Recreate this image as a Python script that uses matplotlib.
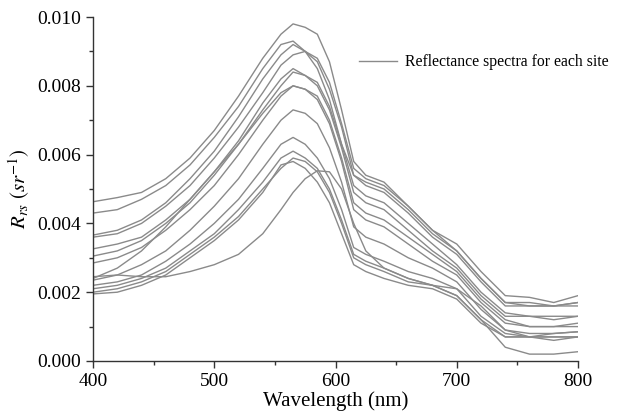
import numpy as np
import matplotlib
matplotlib.use("Agg")
import matplotlib.pyplot as plt
from matplotlib.ticker import MultipleLocator, FormatStrFormatter

plt.rcParams['font.family'] = ['Liberation Serif', 'DejaVu Serif']
plt.rcParams['mathtext.fontset'] = 'stix'

wavelength = [400, 420, 440, 460, 480, 500, 520, 540, 555, 565, 575, 585, 595,
              605, 615, 625, 640, 660, 680, 700, 720, 740, 760, 780, 800]

# Rrs per site (sr^-1)
site_01 = [.00463, .00475, .0049, .0053, .0059, .0067, .0077, .0088, .0095, .0098, .0097, .0095, .0087,
           .0073, .0058, .0054, .0052, .0045, .0038, .0034, .0026, .0019, .00185, .0017, .0019]
site_02 = [.0043, .0044, .0047, .0051, .0057, .0065, .0074, .0085, .0092, .0093, .0090, .0085, .0076,
           .0063, .0054, .0052, .0050, .0044, .0037, .0032, .0024, .0017, .0017, .0016, .0017]
site_03 = [.00366, .0038, .0041, .0046, .0053, .0061, .0071, .0082, .0089, .0092, .0090, .0087, .0079,
           .0068, .0054, .0051, .0049, .0043, .0036, .0031, .0023, .0016, .0016, .0016, .0017]
site_04 = [.0036, .0037, .0040, .0045, .0051, .0059, .0068, .0078, .0086, .0089, .0090, .0088, .0081,
           .0069, .0056, .0053, .0051, .0045, .0038, .0032, .0024, .0017, .0016, .0016, .0016]
site_05 = [.00326, .0034, .0036, .0041, .0047, .0055, .0064, .0075, .0082, .0085, .0083, .0080, .0073,
           .0062, .0049, .0046, .0044, .0038, .0032, .0027, .0019, .0013, .0013, .0012, .0013]
site_06 = [.00305, .0032, .0035, .0040, .0046, .0054, .0063, .0073, .0080, .0084, .0083, .0081, .0074,
           .0063, .0051, .0048, .0046, .0040, .0034, .0028, .0020, .0014, .0013, .0013, .0013]
site_07 = [.00285, .0030, .0033, .0038, .0044, .0051, .0060, .0070, .0077, .0080, .0079, .0076, .0069,
           .0058, .0044, .0041, .0039, .0034, .0029, .0025, .0017, .0011, .0010, .0010, .0010]
site_08 = [.0024, .0027, .0032, .0039, .0047, .0055, .0063, .0072, .0078, .0080, .0079, .0077, .0070,
           .0059, .0046, .0043, .0041, .0036, .0031, .0026, .0018, .0012, .0010, .0010, .0011]
site_09 = [.00235, .0025, .0028, .0032, .0038, .0045, .0053, .0063, .0070, .0073, .0072, .0069, .0062,
           .0052, .0039, .0036, .0034, .0030, .0027, .0023, .0015, .0009, .0008, .0008, .00085]
site_10 = [.0022, .0023, .0025, .0029, .0034, .0040, .0047, .0056, .0063, .0065, .0063, .0059, .0053,
           .0044, .0033, .0031, .0029, .0026, .0024, .0021, .0013, .0008, .0007, .0007, .0007]
site_11 = [.0021, .0022, .0024, .0027, .0032, .0037, .0044, .0052, .0059, .0061, .0059, .0056, .0050,
           .0041, .0031, .0029, .0027, .0024, .0022, .0019, .0012, .0007, .0007, .0006, .0007]
site_12 = [.0020, .0021, .0023, .0026, .0031, .0036, .0042, .0050, .0056, .0059, .0058, .0055, .0049,
           .0040, .0030, .0028, .0026, .0023, .0022, .0021, .0016, .0009, .0007, .0008, .00085]
site_13 = [.00195, .0020, .0022, .0025, .0030, .0035, .0041, .0049, .0057, .0058, .0056, .0052, .0046,
           .0037, .0028, .0026, .0024, .0022, .0021, .0018, .0011, .0007, .0007, .0007, .0007]
site_14 = [.00245, .0025, .00245, .00245, .0026, .0028, .0031, .0037, .0044, .0049, .0053, .00553, .0055,
           .0050, .0040, .0032, .0027, .0024, .0022, .0019, .0012, .0004, .0002, .0002, .00027]

sites = [site_01, site_02, site_03, site_04, site_05, site_06, site_07,
         site_08, site_09, site_10, site_11, site_12, site_13, site_14]

fig = plt.figure(figsize=(6.34, 4.17), dpi=100)
ax = fig.add_axes([0.1467, 0.1343, 0.765, 0.8249])

for i, s in enumerate(sites):
    ax.plot(wavelength, s, color='#8a8a8a', linewidth=1.0,
            label='Reflectance spectra for each site' if i == 0 else None)

ax.set_xlim(400, 800)
ax.set_ylim(0, 0.010)
ax.xaxis.set_major_locator(MultipleLocator(100))
ax.xaxis.set_minor_locator(MultipleLocator(50))
ax.yaxis.set_major_locator(MultipleLocator(0.002))
ax.yaxis.set_minor_locator(MultipleLocator(0.001))
ax.yaxis.set_major_formatter(FormatStrFormatter('%.3f'))

for side in ['top', 'right']:
    ax.spines[side].set_visible(False)
for side in ['left', 'bottom']:
    ax.spines[side].set_color('#333333')
    ax.spines[side].set_linewidth(1.0)

ax.tick_params(which='major', direction='out', length=5, width=1, labelsize=14, color='#333333')
ax.tick_params(which='minor', direction='out', length=3, width=1, color='#333333')

ax.set_xlabel('Wavelength (nm)', fontsize=15, labelpad=1)
ax.set_ylabel(r'$R_{rs}\ (sr^{-1})$', fontsize=15, labelpad=4)

ax.legend(loc='upper left', bbox_to_anchor=(0.52, 0.933), frameon=False,
          fontsize=11.3, handlelength=2.4, handletextpad=0.5)

fig.savefig('out.png', dpi=100)
